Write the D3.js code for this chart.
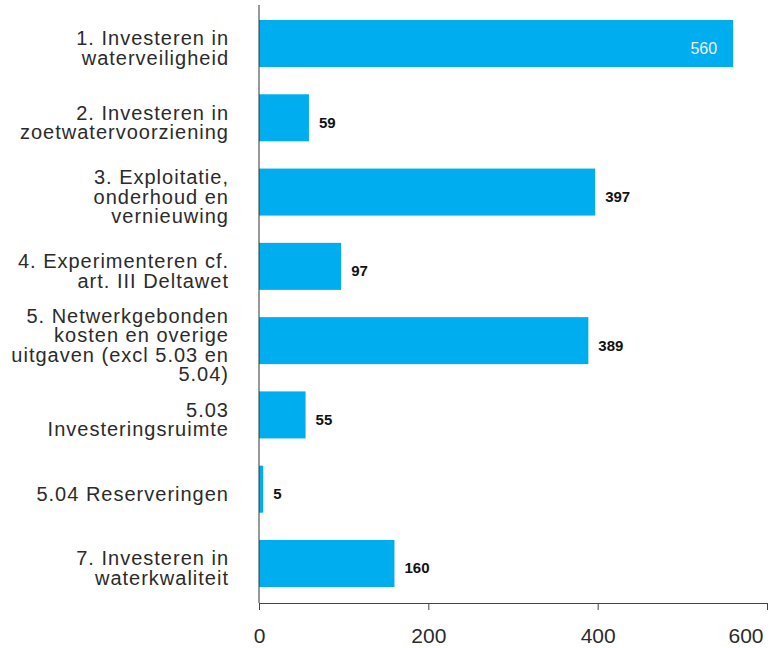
<!DOCTYPE html>
<html>
<head>
<meta charset="utf-8">
<script src="https://cdn.jsdelivr.net/npm/d3@7"></script>
<style>
  body { margin: 0; background: #fff; }
  svg { display: block; font-family: "Liberation Sans", Arial, sans-serif; }
</style>
</head>
<body>
<svg id="canvas"></svg>
<script>
const categories = [
  ["1. Investeren in", "waterveiligheid"],
  ["2. Investeren in", "zoetwatervoorziening"],
  ["3. Exploitatie,", "onderhoud en", "vernieuwing"],
  ["4. Experimenteren cf.", "art. III Deltawet"],
  ["5. Netwerkgebonden", "kosten en overige", "uitgaven (excl 5.03 en", "5.04)"],
  ["5.03", "Investeringsruimte"],
  ["5.04 Reserveringen"],
  ["7. Investeren in", "waterkwaliteit"],
];
const values = [560, 59, 397, 97, 389, 55, 5, 160];
const xTicks = [0, 200, 400, 600];

const width = 777;
const height = 648;
const plotLeft = 259;
const plotRight = 767;
const plotTop = 5;
const plotBottom = 603;

const canvas = d3.select("#canvas").attr("width", width).attr("height", height);

const keys = categories.map((c, i) => i);

const xScale = d3.scaleLinear().domain([0, 600]).range([plotLeft, plotRight]);
const yScale = d3
  .scaleBand()
  .domain(keys)
  .range([6.4, 600.6])
  .paddingInner(0.367)
  .paddingOuter(0.183);

// bars
canvas
  .selectAll("rect.bar")
  .data(values)
  .enter()
  .append("rect")
  .attr("class", "bar")
  .attr("x", xScale(0))
  .attr("y", (d, i) => yScale(i))
  .attr("width", (d) => xScale(d) - xScale(0))
  .attr("height", yScale.bandwidth())
  .attr("fill", "#00aeef");

// value labels, the biggest one sits inside its bar
canvas
  .selectAll("text.value")
  .data(values)
  .enter()
  .append("text")
  .attr("class", "value")
  .attr("x", (d) => (d > 500 ? xScale(d) - 16 : xScale(d) + 10))
  .attr("y", (d, i) => yScale(i) + yScale.bandwidth() / 2 + 10)
  .attr("text-anchor", (d) => (d > 500 ? "end" : "start"))
  .attr("font-size", (d) => (d > 500 ? 16 : 15))
  .attr("font-weight", (d) => (d > 500 ? "normal" : "bold"))
  .attr("fill", (d) => (d > 500 ? "#eeeeee" : "#111"))
  .text((d) => d);

// category labels
const lineHeight = 19.5;
const labels = canvas
  .selectAll("text.cat")
  .data(categories)
  .enter()
  .append("text")
  .attr("class", "cat")
  .attr("text-anchor", "end")
  .attr("font-size", 20)
  .attr("letter-spacing", 1)
  .attr("fill", "#2b2b2b");

labels.each(function (lines, i) {
  const cy = yScale(i) + yScale.bandwidth() / 2;
  const y0 = cy + 11.5 - ((lines.length - 1) * lineHeight) / 2;
  d3.select(this)
    .selectAll("tspan")
    .data(lines)
    .enter()
    .append("tspan")
    .attr("x", 229)
    .attr("y", (d, j) => y0 + j * lineHeight)
    .text((d) => d);
});

// axes
const xAxis = d3.axisBottom(xScale).tickValues(xTicks).tickSize(7).tickSizeOuter(0).tickPadding(18);
const gx = canvas.append("g").attr("transform", `translate(0, ${plotBottom})`).call(xAxis);
gx.select(".domain").attr("stroke", "#444");
gx.selectAll(".tick line").attr("stroke", "#444");
gx.selectAll(".tick text")
  .attr("font-size", 21)
  .attr("font-family", "Liberation Sans, Arial, sans-serif")
  .attr("fill", "#2b2b2b");
// last tick label is pulled inside the page
gx.selectAll(".tick text")
  .filter((d) => d === d3.max(xTicks))
  .attr("text-anchor", "end")
  .attr("x", -4);

canvas
  .append("line")
  .attr("x1", xScale(0))
  .attr("x2", xScale(0))
  .attr("y1", plotTop)
  .attr("y2", plotBottom)
  .attr("stroke", "#333")
  .attr("stroke-width", 1);
</script>
</body>
</html>
